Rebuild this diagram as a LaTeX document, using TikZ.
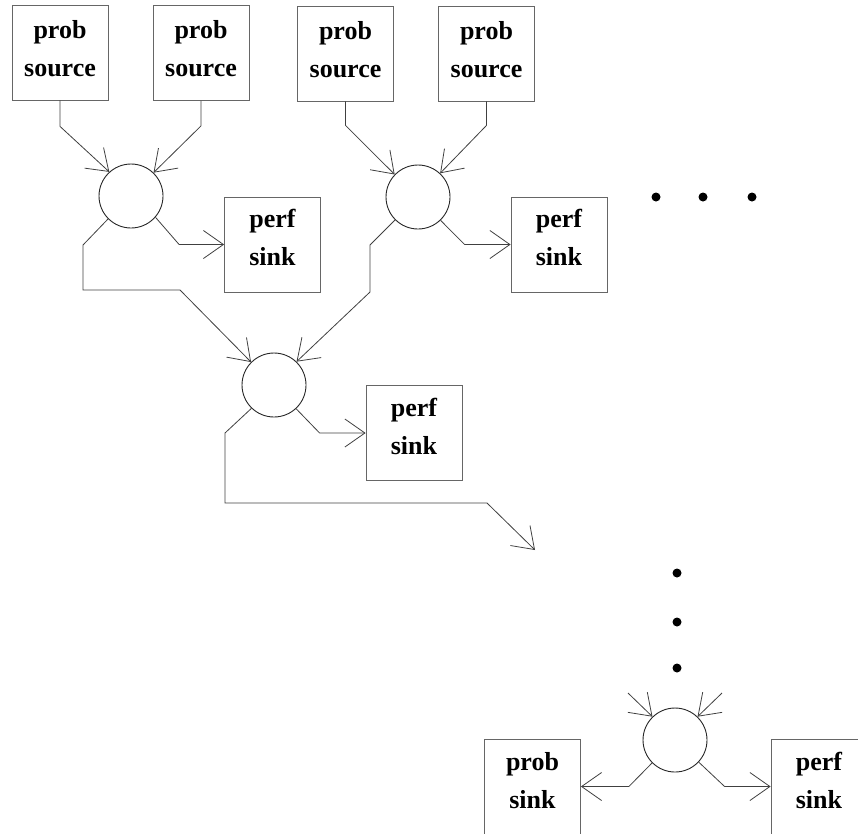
\documentclass[tikz,border=0pt]{standalone}
\usepackage{fontspec}
\setmainfont{Liberation Serif}
\usetikzlibrary{arrows.meta}
\begin{document}
\begin{tikzpicture}[x=1pt,y=-1pt,
  box/.style={draw=black!60,line width=0.8pt,rectangle,minimum width=96pt,minimum height=95pt,inner sep=0pt},
  lbl/.style={inner sep=0pt,align=center,font=\fontsize{26}{38}\selectfont\bfseries},
  hub/.style={draw=black!85,line width=0.9pt,circle,minimum size=64pt,inner sep=0pt},
  wire/.style={draw=black!75,line width=0.8pt},
  arr/.style={wire,-{Straight Barb[length=20pt,width=28pt,line width=0.8pt]}},
  dot/.style={fill=black,circle,inner sep=0pt,minimum size=9pt}]
\useasboundingbox (0,0) rectangle (858,833);
\clip (0,0) rectangle (858,833);
% sources
\node[box] (src1) at (60,52.5) {};
\node[box] (src2) at (201,53) {};
\node[box] (src3) at (345.5,53.5) {};
\node[box] (src4) at (486.5,53.5) {};
\node[lbl] (t1) at ([yshift=4pt]src1.center) {prob\\source};
\node[lbl] (t2) at ([yshift=4pt]src2.center) {prob\\source};
\node[lbl] (t3) at ([yshift=4pt]src3.center) {prob\\source};
\node[lbl] (t4) at ([yshift=4pt]src4.center) {prob\\source};
% hubs
\node[hub] (c1) at (131,196) {};
\node[hub] (c2) at (418,197) {};
\node[hub] (c3) at (274,385) {};
\node[hub] (c4) at (675,740) {};
% sinks
\node[box] (sink1) at (272.5,244.5) {};
\node[box] (sink2) at (559,244.5) {};
\node[box] (sink3) at (414,433) {};
\node[box] (psink) at (532.5,786.5) {};
\node[box] (sink4) at (819,786.5) {};
\node[lbl] (t5) at ([yshift=7pt]sink1.center) {perf\\sink};
\node[lbl] (t6) at ([yshift=7pt]sink2.center) {perf\\sink};
\node[lbl] (t7) at ([yshift=7pt]sink3.center) {perf\\sink};
\node[lbl] (t8) at ([yshift=6pt]psink.center) {prob\\sink};
\node[lbl] (t9) at ([yshift=6pt]sink4.center) {perf\\sink};
% dots
\node[dot] (d1) at (656,197) {};
\node[dot] (d2) at (703,197) {};
\node[dot] (d3) at (752,197) {};
\node[dot] (v1) at (677,573) {};
\node[dot] (v2) at (677,622) {};
\node[dot] (v3) at (677,668) {};
% source -> hub
\draw[arr] (src1.south) -- ++(0,26) -- (c1.132);
\draw[arr] (src2.south) -- ++(0,25) -- (c1.46);
\draw[arr] (src3.south) -- ++(0,24) -- (c2.136);
\draw[arr] (src4.south) -- ++(0,24) -- (c2.47);
% hub -> perf sinks
\draw[arr] (c1.-41) -- ([xshift=-45pt]sink1.west) -- (sink1.west);
\draw[arr] (c2.-46) -- ([xshift=-46pt]sink2.west) -- (sink2.west);
\draw[arr] (c3.-47) -- ([xshift=-46pt]sink3.west) -- (sink3.west);
% hubs -> hub 3
\draw[arr] (c1.-135) -- (83,245) -- (83,290) -- (180,290) -- (c3.135);
\draw[arr] (c2.-135) -- (370,245) -- (370,292) -- (c3.46);
% hub 3 -> onward
\coordinate (out3) at (535,550);
\draw[arr] (c3.-134) -- (225,433) -- (225,503) -- (487,503) -- (out3);
% last hub
\coordinate (in4a) at (628,693);
\coordinate (in4b) at (722,693);
\draw[arr] (in4a) -- (c4.134);
\draw[arr] (in4b) -- (c4.46);
\draw[arr] (c4.-135) -- ([xshift=48pt]psink.east) -- (psink.east);
\draw[arr] (c4.-43) -- ([xshift=-46pt]sink4.west) -- (sink4.west);
\end{tikzpicture}
\end{document}
